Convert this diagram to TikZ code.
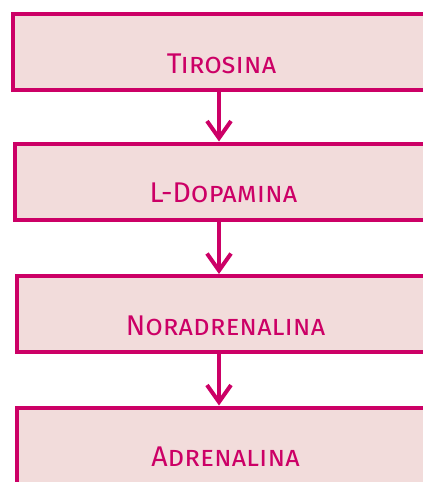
\documentclass[tikz,border=0pt]{standalone}
\usepackage{fontspec}
\setmainfont{Fira Sans}
\usepackage{xcolor}
\usetikzlibrary{arrows.meta}
\definecolor{stepmagenta}{RGB}{204,0,102}
\definecolor{steppink}{RGB}{242,220,219}

\begin{document}
\begin{tikzpicture}[x=1pt, y=1pt,
  stepbox/.style={draw=stepmagenta, fill=steppink, line width=4pt,
    minimum width=417pt, minimum height=76pt, inner sep=0pt,
    text=stepmagenta, font=\fontsize{28.5}{31}\selectfont\scshape,
    text height=42pt, text depth=0pt},
  steparrow/.style={draw=stepmagenta, line width=4pt,
    -{Straight Barb[length=17pt, width=24pt]}}]
  \useasboundingbox (0,0) rectangle (423,-482);
  \clip (0,0) rectangle (423,-482);

  %% Steps of the pathway
  \node[stepbox] (tir) at (221.5,-52) {Tirosina};
  \node[stepbox] (dop) at (223.5,-181.5) {L-Dopamina};
  \node[stepbox] (nor) at (225.5,-314) {Noradrenalina};
  \node[stepbox] (adr) at (225.5,-445.5) {Adrenalina};

  %% Arrows
  \coordinate (ax) at (219,0);
  \draw[steparrow] (tir.south -| ax) -- (dop.north -| ax);
  \draw[steparrow] (dop.south -| ax) -- (nor.north -| ax);
  \draw[steparrow] (nor.south -| ax) -- (adr.north -| ax);
\end{tikzpicture}
\end{document}
